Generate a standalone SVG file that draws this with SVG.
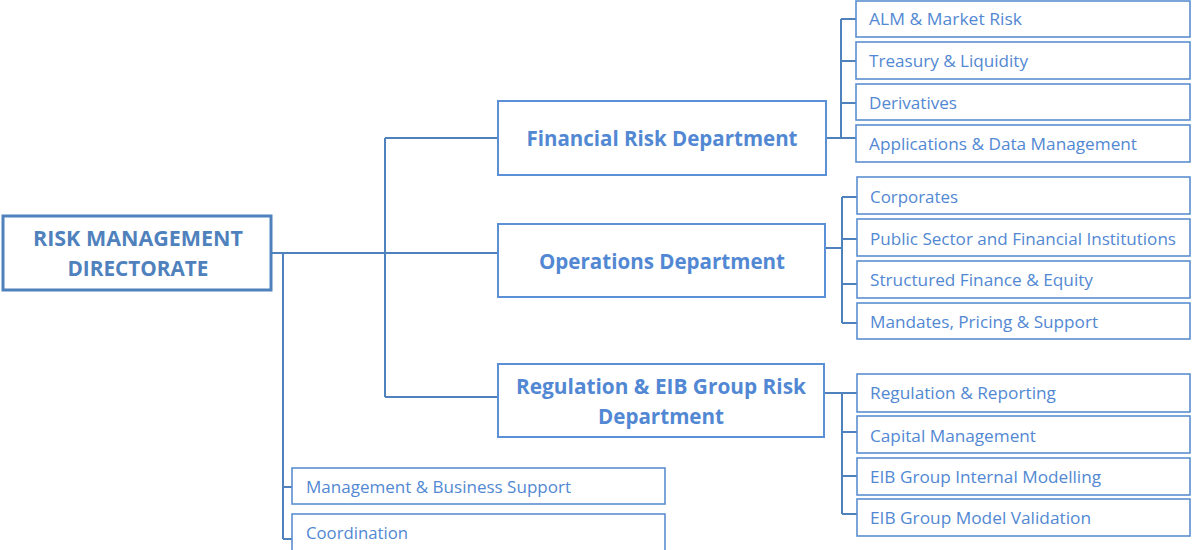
<svg xmlns="http://www.w3.org/2000/svg" width="1192" height="550" viewBox="0 0 1192 550">
<style>
.root{fill:#fff;stroke:#4f81bd;stroke-width:3}
.dept{fill:#fff;stroke:#5b8fd6;stroke-width:2}
.sub{fill:#fff;stroke:#5b8fd0;stroke-width:1.6}
.rt{font-family:"Open Sans","Liberation Sans",sans-serif;font-weight:bold;font-size:21px;fill:#4f81bd;text-anchor:middle}
.dt{font-family:"Open Sans","Liberation Sans",sans-serif;font-weight:bold;font-size:21px;fill:#5288d3;text-anchor:middle}
.st{font-family:"Open Sans","Liberation Sans",sans-serif;font-size:17px;fill:#5288d3}
.c{fill:none;stroke:#4f81bd;stroke-width:2}
</style>
<rect width="1192" height="550" fill="#fff"/>
<g id="connectors">
<path class="c" d="M271 253H498M385 138V397M385 138H498M385 397H498"/>
<path class="c" d="M283 253V539M283 487H292M283 539H292"/>
<path class="c" d="M826 138H856M841 19V138M841 19H856M841 61H856M841 103H856"/>
<path class="c" d="M825 248H842M842 197V323M842 197H857M842 239H857M842 284H857M842 323H857"/>
<path class="c" d="M824 393H857M842 393V514M842 432H857M842 476H857M842 514H857"/>
</g>
<g id="root"><rect class="root" x="3" y="216" width="268" height="74"/>
<text class="rt" x="138" y="246" textLength="210" lengthAdjust="spacingAndGlyphs">RISK MANAGEMENT</text>
<text class="rt" x="138" y="276" textLength="141" lengthAdjust="spacingAndGlyphs">DIRECTORATE</text></g>
<g id="financial"><rect class="dept" x="498" y="101" width="328" height="74"/>
<text class="dt" x="662" y="146" textLength="271" lengthAdjust="spacingAndGlyphs">Financial Risk Department</text></g>
<g id="operations"><rect class="dept" x="498" y="224" width="327" height="73"/>
<text class="dt" x="662" y="269" textLength="246" lengthAdjust="spacingAndGlyphs">Operations Department</text></g>
<g id="regulation"><rect class="dept" x="498" y="364" width="326" height="73"/>
<text class="dt" x="661" y="394" textLength="290" lengthAdjust="spacingAndGlyphs">Regulation &amp; EIB Group Risk</text>
<text class="dt" x="661" y="424" textLength="126" lengthAdjust="spacingAndGlyphs">Department</text></g>
<g id="alm"><rect class="sub" x="856" y="1" width="334" height="36"/><text class="st" x="869" y="25" textLength="153" lengthAdjust="spacingAndGlyphs">ALM &amp; Market Risk</text></g>
<g id="treasury"><rect class="sub" x="856" y="42" width="334" height="37"/><text class="st" x="869" y="67" textLength="159" lengthAdjust="spacingAndGlyphs">Treasury &amp; Liquidity</text></g>
<g id="derivatives"><rect class="sub" x="856" y="84" width="334" height="36"/><text class="st" x="869" y="109" textLength="88" lengthAdjust="spacingAndGlyphs">Derivatives</text></g>
<g id="applications"><rect class="sub" x="856" y="125" width="334" height="37"/><text class="st" x="869" y="150" textLength="268" lengthAdjust="spacingAndGlyphs">Applications &amp; Data Management</text></g>
<g id="corporates"><rect class="sub" x="857" y="177" width="333" height="37"/><text class="st" x="870" y="203" textLength="88" lengthAdjust="spacingAndGlyphs">Corporates</text></g>
<g id="public"><rect class="sub" x="857" y="219" width="333" height="37"/><text class="st" x="870" y="245" textLength="306" lengthAdjust="spacingAndGlyphs">Public Sector and Financial Institutions</text></g>
<g id="structured"><rect class="sub" x="857" y="261" width="333" height="37"/><text class="st" x="870" y="286" textLength="223" lengthAdjust="spacingAndGlyphs">Structured Finance &amp; Equity</text></g>
<g id="mandates"><rect class="sub" x="857" y="303" width="333" height="36"/><text class="st" x="870" y="328" textLength="228" lengthAdjust="spacingAndGlyphs">Mandates, Pricing &amp; Support</text></g>
<g id="regrep"><rect class="sub" x="857" y="374" width="333" height="38"/><text class="st" x="870" y="399" textLength="186" lengthAdjust="spacingAndGlyphs">Regulation &amp; Reporting</text></g>
<g id="capital"><rect class="sub" x="857" y="416" width="333" height="37"/><text class="st" x="870" y="442" textLength="166" lengthAdjust="spacingAndGlyphs">Capital Management</text></g>
<g id="internal"><rect class="sub" x="857" y="458" width="333" height="37"/><text class="st" x="870" y="483" textLength="231" lengthAdjust="spacingAndGlyphs">EIB Group Internal Modelling</text></g>
<g id="validation"><rect class="sub" x="857" y="499" width="333" height="37"/><text class="st" x="870" y="524" textLength="221" lengthAdjust="spacingAndGlyphs">EIB Group Model Validation</text></g>
<g id="mbs"><rect class="sub" x="292" y="468" width="373" height="36"/><text class="st" x="306" y="493" textLength="265" lengthAdjust="spacingAndGlyphs">Management &amp; Business Support</text></g>
<g id="coordination"><rect class="sub" x="292" y="514" width="373" height="50"/><text class="st" x="306" y="539" textLength="102" lengthAdjust="spacingAndGlyphs">Coordination</text></g>
</svg>
